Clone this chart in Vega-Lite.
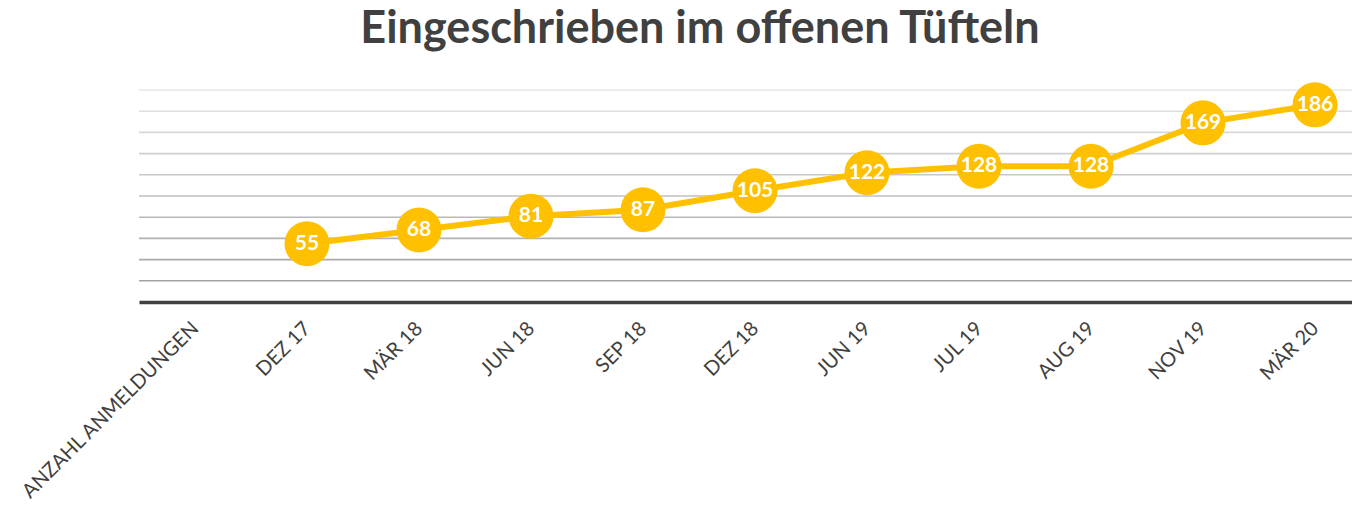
{
  "$schema": "https://vega.github.io/schema/vega-lite/v6.json",
  "width": 1232,
  "height": 212,
  "autosize": "none",
  "padding": {"left": 139, "top": 90, "right": 0, "bottom": 205},
  "background": "white",
  "title": {
    "text": "Eingeschrieben im offenen Tüfteln",
    "font": "Lato",
    "fontSize": 45,
    "fontWeight": "bold",
    "color": "#404040",
    "anchor": "middle",
    "offset": 30,
    "dx": -55
  },
  "data": {
    "values": [
      {"cat": "ANZAHL ANMELDUNGEN", "v": null},
      {"cat": "DEZ 17", "v": 55},
      {"cat": "MÄR 18", "v": 68},
      {"cat": "JUN 18", "v": 81},
      {"cat": "SEP 18", "v": 87},
      {"cat": "DEZ 18", "v": 105},
      {"cat": "JUN 19", "v": 122},
      {"cat": "JUL 19", "v": 128},
      {"cat": "AUG 19", "v": 128},
      {"cat": "NOV 19", "v": 169},
      {"cat": "MÄR 20", "v": 186}
    ]
  },
  "encoding": {
    "x": {
      "field": "cat",
      "type": "ordinal",
      "sort": null,
      "scale": {"paddingInner": 0, "paddingOuter": 0},
      "axis": {
        "title": null,
        "labelAngle": -45,
        "labelAlign": "right",
        "labelBaseline": "middle",
        "labelPadding": 23,
        "labelFont": "Lato",
        "labelFontSize": 20,
        "labelColor": "#404040",
        "labelLimit": 400,
        "ticks": false,
        "grid": false,
        "domainColor": "#404040",
        "domainWidth": 3.5
      }
    }
  },
  "layer": [
    {
      "data": {"values": [{"g": 20}, {"g": 40}, {"g": 60}, {"g": 80}, {"g": 100}, {"g": 120}, {"g": 140}, {"g": 160}, {"g": 180}, {"g": 200}]},
      "mark": {"type": "rule", "strokeWidth": 1.6},
      "encoding": {
        "x": null,
        "y": {"field": "g", "type": "quantitative", "scale": {"domain": [0, 200], "nice": false}, "axis": null},
        "color": {"field": "g", "type": "quantitative", "scale": {"domain": [20, 200], "range": ["#a3a3a3", "#e6e6e6"]}, "legend": null}
      }
    },
    {
      "mark": {"type": "line", "color": "#FFC000", "strokeWidth": 6},
      "encoding": {"y": {"field": "v", "type": "quantitative", "scale": {"domain": [0, 200], "nice": false}, "axis": null}}
    },
    {
      "mark": {"type": "point", "filled": true, "opacity": 1, "color": "#FFC000", "size": 2025},
      "encoding": {"y": {"field": "v", "type": "quantitative"}}
    },
    {
      "mark": {"type": "text", "color": "white", "font": "Lato", "fontWeight": "bold", "fontSize": 21, "baseline": "middle", "align": "center"},
      "encoding": {"y": {"field": "v", "type": "quantitative"}, "text": {"field": "v", "type": "quantitative"}}
    }
  ],
  "config": {"view": {"stroke": null}}
}
